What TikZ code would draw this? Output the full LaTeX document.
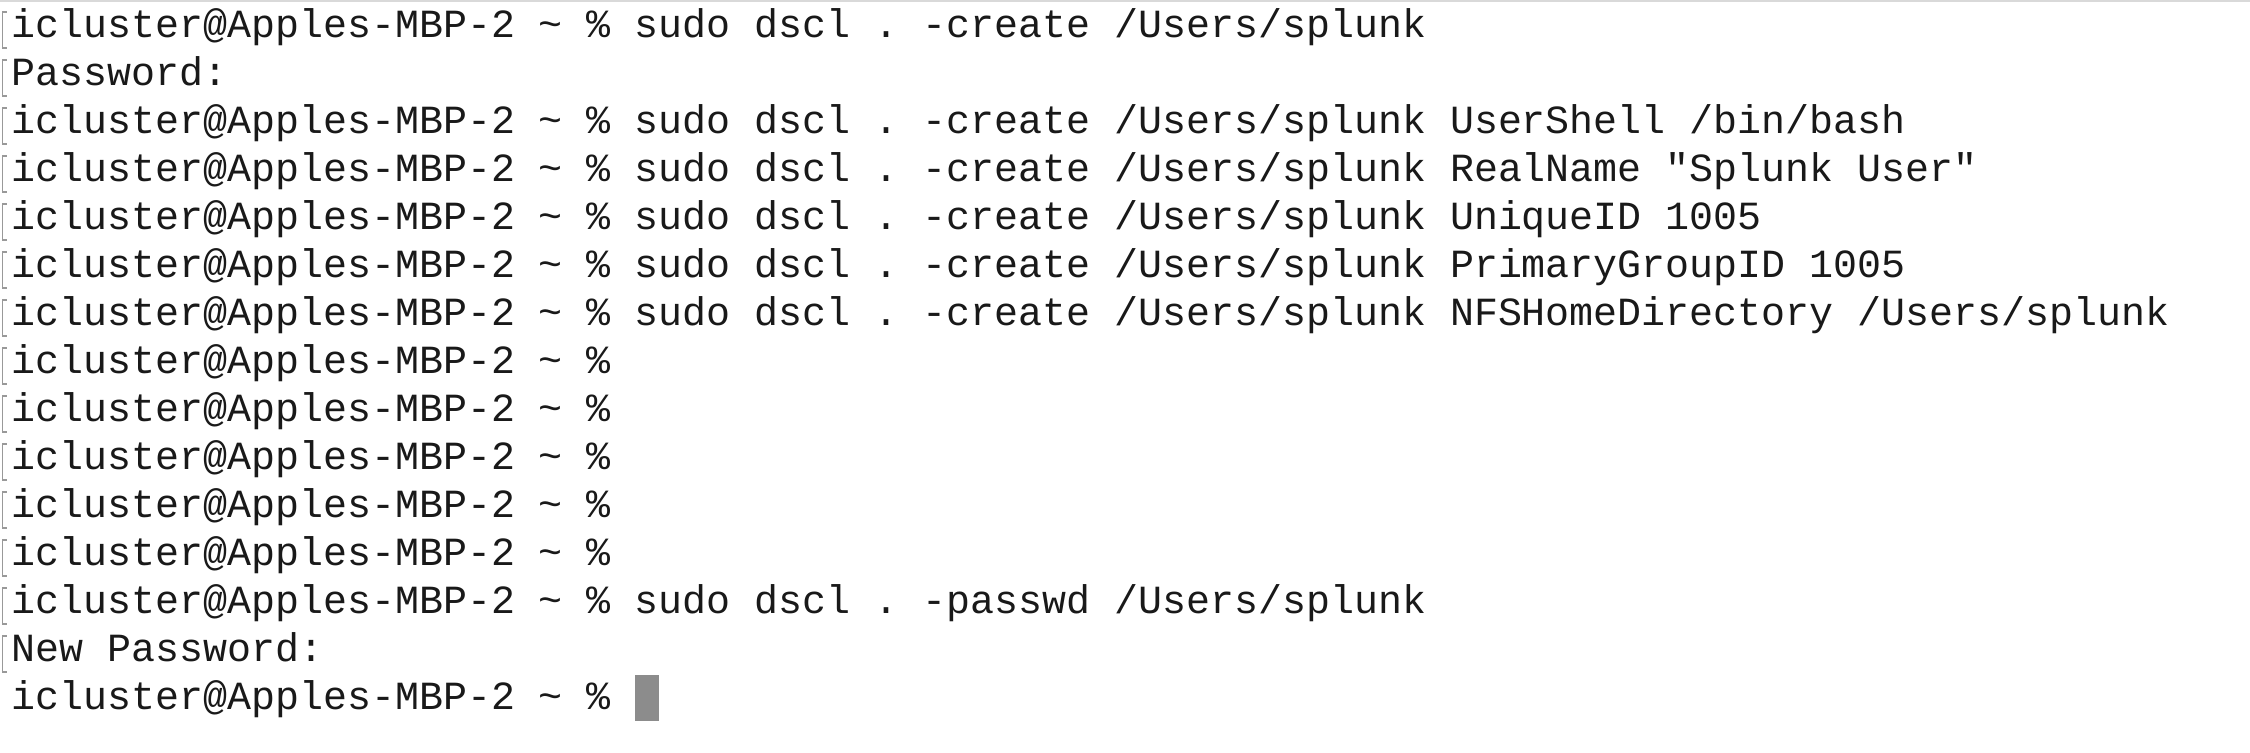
\documentclass[tikz,border=0pt]{standalone}
\usepackage{fontspec}
\setmonofont{Liberation Mono}
\usetikzlibrary{positioning}
\newcommand{\prompt}{icluster@Apples-MBP-2 \string~ \%}
\begin{document}
\begin{tikzpicture}[
    x=0.5pt, y=0.5pt,
    termline/.style={rectangle, inner sep=0pt, outer sep=0pt, text height=15.5pt, text depth=8.5pt,
        font=\ttfamily\fontsize{19.98pt}{24pt}\selectfont, text=black!90, anchor=north west},
    cursorbox/.style={rectangle, fill=black!45, inner sep=0pt, minimum width=11.8pt, minimum height=23pt},
    edgemark/.style={draw=black!40, line width=0.6pt},
    node distance=0pt
]
\useasboundingbox (0,0) rectangle (2250,-752);
\fill[black!15] (0,0) rectangle (2250,-2);
\node (Line1) [termline] at (11.5,-6) {\prompt{} sudo dscl . -create /Users/splunk};
\node (Line2) [termline, below=of Line1.south west, anchor=north west] {Password:};
\node (Line3) [termline, below=of Line2.south west, anchor=north west] {\prompt{} sudo dscl . -create /Users/splunk UserShell /bin/bash};
\node (Line4) [termline, below=of Line3.south west, anchor=north west] {\prompt{} sudo dscl . -create /Users/splunk RealName "Splunk User"};
\node (Line5) [termline, below=of Line4.south west, anchor=north west] {\prompt{} sudo dscl . -create /Users/splunk UniqueID 1005};
\node (Line6) [termline, below=of Line5.south west, anchor=north west] {\prompt{} sudo dscl . -create /Users/splunk PrimaryGroupID 1005};
\node (Line7) [termline, below=of Line6.south west, anchor=north west] {\prompt{} sudo dscl . -create /Users/splunk NFSHomeDirectory /Users/splunk};
\node (Line8) [termline, below=of Line7.south west, anchor=north west] {\prompt};
\node (Line9) [termline, below=of Line8.south west, anchor=north west] {\prompt};
\node (Line10) [termline, below=of Line9.south west, anchor=north west] {\prompt};
\node (Line11) [termline, below=of Line10.south west, anchor=north west] {\prompt};
\node (Line12) [termline, below=of Line11.south west, anchor=north west] {\prompt};
\node (Line13) [termline, below=of Line12.south west, anchor=north west] {\prompt{} sudo dscl . -passwd /Users/splunk};
\node (Line14) [termline, below=of Line13.south west, anchor=north west] {New Password:};
\node (Line15) [termline, below=of Line14.south west, anchor=north west] {\prompt};
\node (Cursor) [cursorbox, right=11.9pt of Line15.east, anchor=west, yshift=2pt] {};
% faint marks at the left edge
\foreach \n in {1,...,14} {
  \draw[edgemark] ([xshift=-2.5pt,yshift=9pt]Line\n.west) -- ([xshift=-4.5pt,yshift=9pt]Line\n.west)
    -- ([xshift=-4.5pt,yshift=-9pt]Line\n.west) -- ([xshift=-2.5pt,yshift=-9pt]Line\n.west);
}
\end{tikzpicture}
\end{document}
